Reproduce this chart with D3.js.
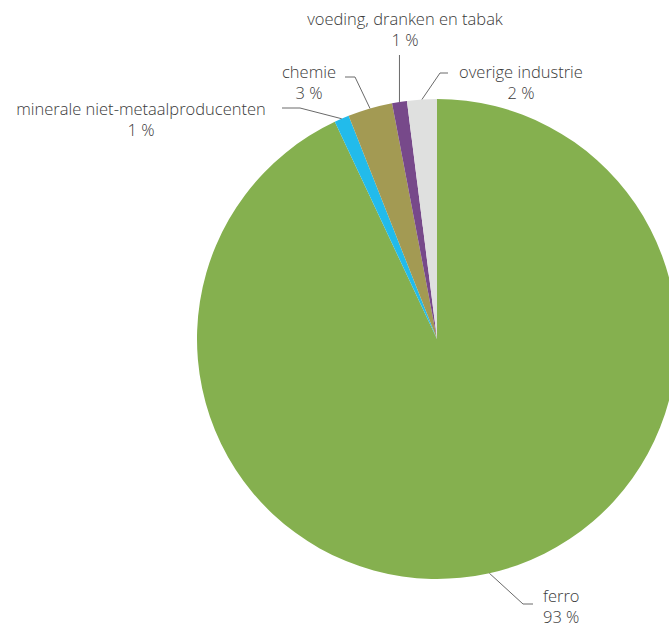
<!DOCTYPE html>
<html>
<head>
<meta charset="utf-8">
<script src="https://cdn.jsdelivr.net/npm/d3@7"></script>
<style>
  html, body { margin: 0; padding: 0; background: #fff; }
  svg { display: block; }
  .lbl { font-family: "Open Sans", sans-serif; font-weight: 300; font-size: 16.5px; fill: #3a3a3a; }
  .leader { fill: none; stroke: #6a6a6a; stroke-width: 1; }
</style>
</head>
<body>
<svg id="chart" width="669" height="628"></svg>
<script>
// Share of industrial emissions per sector (%)
const categories = ["ferro", "minerale niet-metaalproducenten", "chemie", "voeding, dranken en tabak", "overige industrie"];
const values = [93, 1, 3, 1, 2];
const valueLabels = ["93 %", "1 %", "3 %", "1 %", "2 %"];
const colors = ["#85b04f", "#22bbeb", "#a39a53", "#77498a", "#dfe0df"];

// Label placement: text anchor point, baseline of first line, line gap and leader elbow
const labelLayout = [
  { tx: 543, ty: 602, gap: 21, anchor: "start",  elbow: [523, 604], end: [533, 604] },
  { tx: 141, ty: 115, gap: 21, anchor: "middle", elbow: [300, 108], end: [282, 108] },
  { tx: 309, ty: 78,  gap: 21, anchor: "middle", elbow: [355, 77],  end: [345, 77] },
  { tx: 405, ty: 25,  gap: 21, anchor: "middle", elbow: null,       end: [null, 55] },
  { tx: 521, ty: 78,  gap: 21, anchor: "middle", elbow: [440, 73],  end: [448, 73] }
];

const cx = 437, cy = 339, radius = 240;

const svg = d3.select("#chart");
const g = svg.append("g").attr("transform", `translate(${cx},${cy})`);

const pie = d3.pie().sort(null).value(d => d.value).startAngle(0).endAngle(2 * Math.PI);
const data = categories.map((c, i) => ({ name: c, value: values[i], label: valueLabels[i], color: colors[i], layout: labelLayout[i] }));
const arcs = pie(data);

const arc = d3.arc().innerRadius(0).outerRadius(radius);

g.selectAll("path.slice")
  .data(arcs)
  .join("path")
  .attr("class", "slice")
  .attr("d", arc)
  .attr("fill", d => d.data.color);

// Leader lines start on the rim at each slice's mid angle
const rim = d => {
  const a = (d.startAngle + d.endAngle) / 2;
  return [cx + radius * Math.sin(a), cy - radius * Math.cos(a)];
};

svg.selectAll("path.leader")
  .data(arcs)
  .join("path")
  .attr("class", "leader")
  .attr("d", d => {
    const p0 = rim(d);
    const L = d.data.layout;
    const pts = [p0];
    if (L.elbow) pts.push(L.elbow);
    pts.push([L.end[0] === null ? p0[0] : L.end[0], L.end[1]]);
    return d3.line()(pts);
  });

const labels = svg.selectAll("text.lbl")
  .data(arcs)
  .join("text")
  .attr("class", "lbl")
  .attr("text-anchor", d => d.data.layout.anchor);

labels.append("tspan")
  .attr("x", d => d.data.layout.tx)
  .attr("y", d => d.data.layout.ty)
  .text(d => d.data.name);

labels.append("tspan")
  .attr("x", d => d.data.layout.tx)
  .attr("y", d => d.data.layout.ty + d.data.layout.gap)
  .text(d => d.data.label);
</script>
</body>
</html>
